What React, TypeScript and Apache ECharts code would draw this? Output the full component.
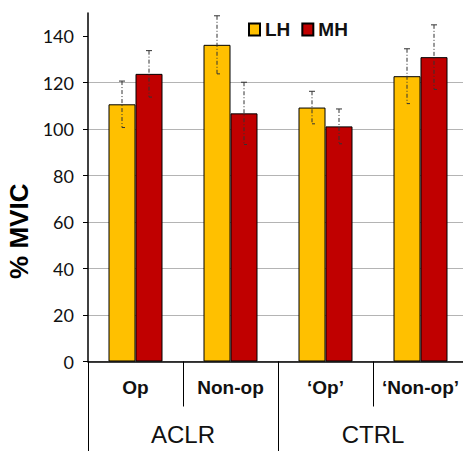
import React, { useEffect, useRef } from "react";
import * as echarts from "echarts";

const subCategories = ["Op", "Non-op", "\u2018Op\u2019", "\u2018Non-op\u2019"];
const groupCategories = ["ACLR", "CTRL"];
const lhValues = [110.7, 136.3, 109.3, 122.8];
const mhValues = [123.8, 106.8, 101.2, 131.0];
const lhErrors = [10.0, 12.5, 7.0, 11.8];
const mhErrors = [10.0, 13.4, 7.5, 13.9];
const yTickValues = [0, 20, 40, 60, 80, 100, 120, 140];

const FONT = "Liberation Sans, Arial, sans-serif";

function errorSeries(name: string, values: number[], errors: number[], offset: number) {
  return {
    type: "custom",
    name: name + " err",
    z: 5,
    silent: true,
    encode: { x: 0, y: 1 },
    data: values.map((v, i) => [i, v, errors[i]]),
    renderItem: (_params: any, api: any) => {
      const cat = api.value(0);
      const v = api.value(1);
      const e = api.value(2);
      const top = api.coord([cat, v + e]);
      const bot = api.coord([cat, v - e]);
      const x = top[0] + offset;
      const style = { stroke: "#333", lineWidth: 1, lineDash: [4, 2, 1, 2] };
      const capStyle = { stroke: "#333", lineWidth: 1 };
      return {
        type: "group",
        children: [
          { type: "line", shape: { x1: x, y1: top[1], x2: x, y2: bot[1] }, style },
          { type: "line", shape: { x1: x - 3, y1: top[1], x2: x + 3, y2: top[1] }, style: capStyle },
          { type: "line", shape: { x1: x, y1: bot[1], x2: x + 3, y2: bot[1] }, style: capStyle },
        ],
      };
    },
  };
}

export default function App() {
  const ref = useRef<HTMLDivElement>(null);
  useEffect(() => {
    if (!ref.current) return;
    const chart = echarts.init(ref.current, null, { renderer: "svg" });
    chart.setOption({
      animation: false,
      backgroundColor: "#fff",
      textStyle: { fontFamily: FONT },
      legend: {
        data: ["LH", "MH"],
        left: 243,
        top: 15,
        icon: "rect",
        itemWidth: 11,
        itemHeight: 12,
        itemGap: 11,
        textStyle: { fontSize: 19, fontWeight: "bold", color: "#111", fontFamily: FONT },
      },
      grid: { left: 88, top: 13, width: 380, height: 348.5, containLabel: false, outerBoundsMode: "none" },
      xAxis: [
        {
          type: "category",
          data: subCategories,
          axisLine: { lineStyle: { color: "#000", width: 1.5 } },
          axisTick: { show: true, interval: 0, length: 45, lineStyle: { color: "#000", width: 1 } },
          axisLabel: { interval: 0, margin: 16, fontSize: 19, fontWeight: "bold", color: "#111", fontFamily: FONT },
        },
        {
          type: "category",
          data: groupCategories,
          position: "bottom",
          axisLine: { show: false },
          axisTick: { show: true, interval: 0, length: 90, lineStyle: { color: "#000", width: 1 } },
          axisLabel: { interval: 0, margin: 61, fontSize: 24, color: "#111", fontFamily: FONT },
        },
      ],
      yAxis: {
        type: "value",
        min: 0,
        max: 150,
        interval: 20,
        name: "% MVIC",
        nameLocation: "middle",
        nameRotate: 90,
        nameGap: 53,
        nameTextStyle: { fontSize: 26, fontWeight: "bold", color: "#000", fontFamily: FONT, padding: [0, 0, 0, -88] },
        axisLine: { show: true, lineStyle: { color: "#000", width: 1.5 } },
        axisTick: { show: true, length: 5, customValues: yTickValues, lineStyle: { color: "#000" } },
        axisLabel: {
          customValues: yTickValues,
          margin: 14,
          fontSize: 18,
          color: "#111",
          fontFamily: "Lato, sans-serif",
        },
        splitLine: { show: true, showMaxLine: false, lineStyle: { color: "#b4b4b4", width: 1 } },
      },
      series: [
        {
          type: "bar",
          name: "LH",
          data: lhValues,
          barWidth: 27,
          barGap: "0%",
          itemStyle: { color: "#FFC000", borderColor: "#000", borderWidth: 1 },
        },
        {
          type: "bar",
          name: "MH",
          data: mhValues,
          barWidth: 27,
          barGap: "0%",
          itemStyle: { color: "#C00000", borderColor: "#000", borderWidth: 1 },
        },
        errorSeries("LH", lhValues, lhErrors, -13.5),
        errorSeries("MH", mhValues, mhErrors, 13.5),
      ],
    });
    return () => chart.dispose();
  }, []);
  return <div ref={ref} style={{ width: 463, height: 451, position: "absolute", left: 0, top: 0 }} />;
}
